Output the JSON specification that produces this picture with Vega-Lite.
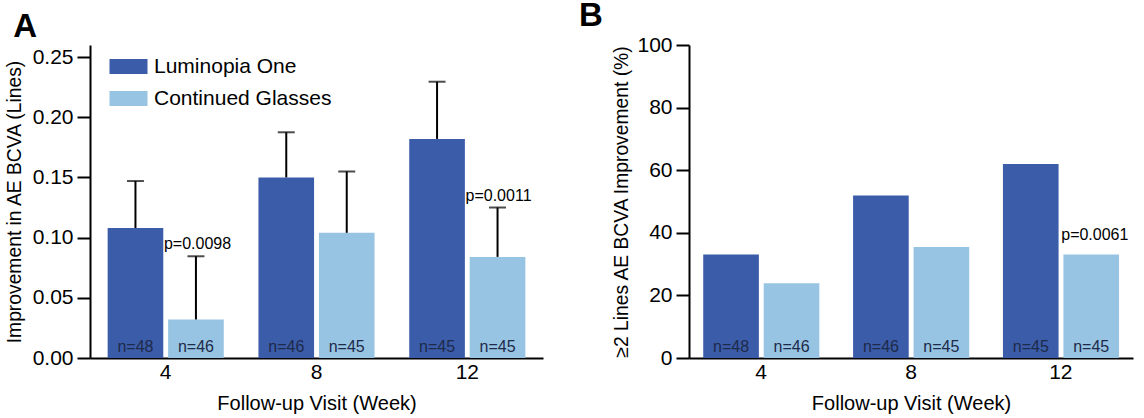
{
  "$schema": "https://vega.github.io/schema/vega-lite/v6.json",
  "background": "white",
  "padding": {"left": 5, "top": 0, "right": 10, "bottom": 2},
  "config": {
    "font": "Liberation Sans",
    "view": {"stroke": null},
    "concat": {"spacing": 35},
    "axis": {
      "grid": false,
      "domainColor": "black",
      "domainWidth": 2,
      "tickColor": "black",
      "tickWidth": 2,
      "tickSize": 13,
      "labelColor": "black",
      "titleColor": "black",
      "labelFontSize": 21,
      "titleFontWeight": "normal",
      "labelPadding": 4
    },
    "title": {"fontSize": 33, "fontWeight": "bold", "anchor": "start", "color": "black"}
  },
  "resolve": {"scale": {"color": "independent"}},
  "datasets": {
    "a": [
      {"week": 4, "group": "Luminopia One", "mean": 0.108, "upper": 0.147, "n": "n=48", "p": null},
      {"week": 4, "group": "Continued Glasses", "mean": 0.032, "upper": 0.0845, "n": "n=46", "p": "p=0.0098"},
      {"week": 8, "group": "Luminopia One", "mean": 0.150, "upper": 0.1875, "n": "n=46", "p": null},
      {"week": 8, "group": "Continued Glasses", "mean": 0.104, "upper": 0.155, "n": "n=45", "p": null},
      {"week": 12, "group": "Luminopia One", "mean": 0.182, "upper": 0.2295, "n": "n=45", "p": null},
      {"week": 12, "group": "Continued Glasses", "mean": 0.084, "upper": 0.125, "n": "n=45", "p": "p=0.0011"}
    ],
    "b": [
      {"week": 4, "group": "Luminopia One", "pct": 33.1, "n": "n=48", "p": null},
      {"week": 4, "group": "Continued Glasses", "pct": 23.9, "n": "n=46", "p": null},
      {"week": 8, "group": "Luminopia One", "pct": 51.9, "n": "n=46", "p": null},
      {"week": 8, "group": "Continued Glasses", "pct": 35.5, "n": "n=45", "p": null},
      {"week": 12, "group": "Luminopia One", "pct": 62.0, "n": "n=45", "p": null},
      {"week": 12, "group": "Continued Glasses", "pct": 33.1, "n": "n=45", "p": "p=0.0061"}
    ]
  },
  "hconcat": [
    {
      "width": 453,
      "height": 313,
      "title": {"text": "A", "offset": 1, "dx": 8},
      "data": {"name": "a"},
      "encoding": {
        "x": {
          "field": "week", "type": "ordinal",
          "scale": {"paddingInner": 0.23, "paddingOuter": 0.117},
          "axis": {"title": "Follow-up Visit (Week)", "titleFontSize": 20, "labelAngle": 0, "ticks": false, "labelPadding": 3, "titlePadding": 11}
        },
        "xOffset": {"field": "group", "type": "nominal", "sort": ["Luminopia One", "Continued Glasses"], "scale": {"paddingInner": 0.08}}
      },
      "layer": [
        {
          "mark": {"type": "bar"},
          "encoding": {
            "y": {
              "field": "mean", "type": "quantitative",
              "scale": {"domain": [0, 0.25]},
              "axis": {"title": "Improvement in AE BCVA (Lines)", "titleFontSize": 19.3, "values": [0, 0.05, 0.1, 0.15, 0.2, 0.25], "format": ".2f", "titlePadding": 8}
            },
            "color": {
              "field": "group", "type": "nominal",
              "scale": {"domain": ["Luminopia One", "Continued Glasses"], "range": ["#3b5ca9", "#97c4e2"]},
              "legend": {
                "title": null, "orient": "none", "legendX": 28, "legendY": 11,
                "symbolType": "M-2,-0.8H2V0.8H-2Z", "symbolSize": 361, "symbolStrokeWidth": 0,
                "symbolOpacity": 1, "labelFontSize": 21, "labelColor": "black", "labelOffset": 15,
                "rowPadding": 10, "labelLimit": 0
              }
            }
          }
        },
        {
          "mark": {"type": "rule", "color": "black", "strokeWidth": 2},
          "encoding": {"y": {"field": "mean", "type": "quantitative"}, "y2": {"field": "upper"}}
        },
        {
          "mark": {"type": "tick", "color": "black", "thickness": 2, "size": 17},
          "encoding": {"y": {"field": "upper", "type": "quantitative"}}
        },
        {
          "mark": {"type": "text", "baseline": "alphabetic", "dy": -6, "fontSize": 16, "color": "#1e2a4a"},
          "encoding": {"y": {"datum": 0}, "text": {"field": "n"}}
        },
        {
          "transform": [{"filter": "datum.p != null"}],
          "mark": {"type": "text", "align": "left", "baseline": "alphabetic", "dx": -32, "dy": -7, "fontSize": 16, "color": "black"},
          "encoding": {"y": {"field": "upper", "type": "quantitative"}, "text": {"field": "p"}}
        }
      ]
    },
    {
      "width": 444,
      "height": 313,
      "title": {"text": "B", "offset": 1, "dx": -34},
      "data": {"name": "b"},
      "encoding": {
        "x": {
          "field": "week", "type": "ordinal",
          "scale": {"paddingInner": 0.227, "paddingOuter": 0.095},
          "axis": {"title": "Follow-up Visit (Week)", "titleFontSize": 20, "labelAngle": 0, "ticks": false, "labelPadding": 3, "titlePadding": 11}
        },
        "xOffset": {"field": "group", "type": "nominal", "sort": ["Luminopia One", "Continued Glasses"], "scale": {"paddingInner": 0.08}}
      },
      "layer": [
        {
          "mark": {"type": "bar"},
          "encoding": {
            "y": {
              "field": "pct", "type": "quantitative",
              "scale": {"domain": [0, 100]},
              "axis": {"title": "≥2 Lines AE BCVA Improvement (%)", "titleFontSize": 19.3, "values": [0, 20, 40, 60, 80, 100], "titlePadding": 5}
            },
            "color": {
              "field": "group", "type": "nominal",
              "scale": {"domain": ["Luminopia One", "Continued Glasses"], "range": ["#3b5ca9", "#97c4e2"]},
              "legend": null
            }
          }
        },
        {
          "mark": {"type": "text", "baseline": "alphabetic", "dy": -6, "fontSize": 16, "color": "#1e2a4a"},
          "encoding": {"y": {"datum": 0}, "text": {"field": "n"}}
        },
        {
          "transform": [{"filter": "datum.p != null"}],
          "mark": {"type": "text", "align": "left", "baseline": "alphabetic", "dx": -30, "dy": -14, "fontSize": 16, "color": "black"},
          "encoding": {"y": {"field": "pct", "type": "quantitative"}, "text": {"field": "p"}}
        }
      ]
    }
  ]
}
